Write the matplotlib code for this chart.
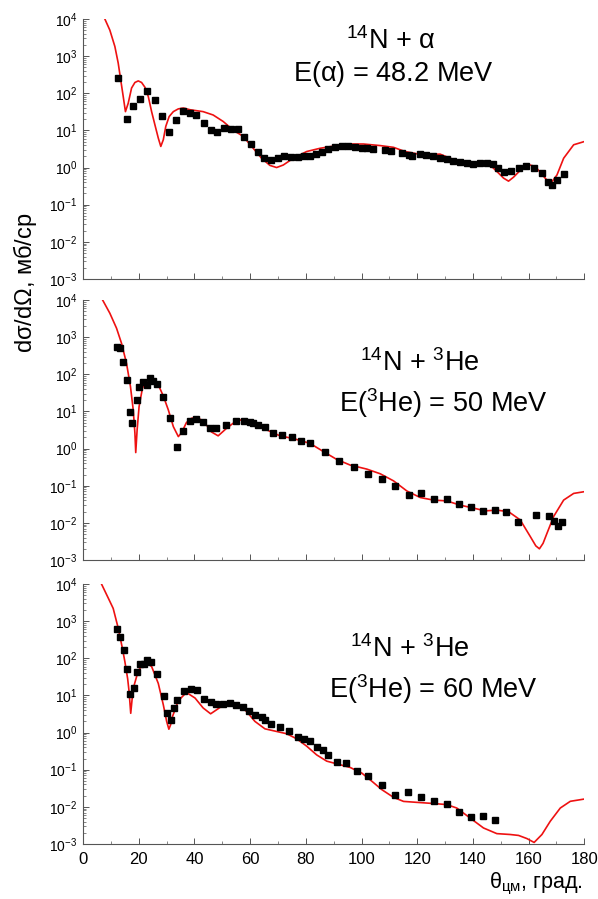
import matplotlib
matplotlib.use("Agg")
import matplotlib.pyplot as plt
from matplotlib.ticker import LogLocator, MultipleLocator, NullFormatter

plt.rcParams['font.family'] = ['Liberation Sans', 'DejaVu Sans']
plt.rcParams['mathtext.fontset'] = 'custom'
plt.rcParams['mathtext.rm'] = 'Liberation Sans'
plt.rcParams['mathtext.it'] = 'Liberation Sans:italic'
plt.rcParams['mathtext.default'] = 'regular'

# ---- Panel 1: 14N + alpha, 48.2 MeV ----
exp1_theta = [12.6, 15.6, 18.0, 20.6, 23.1, 25.8, 28.2, 30.7, 33.3, 35.7, 38.4, 40.7, 43.3, 45.8,
              48.1, 50.7, 53.1, 55.5, 57.9, 60.3, 62.7, 65.1, 67.5, 69.9, 72.3, 74.7, 77.1, 79.5,
              81.5, 83.7, 85.7, 88.1, 90.5, 92.9, 95.3, 97.7, 100.1, 102.1, 104.3, 108.5, 110.5,
              114.5, 116.9, 118.3, 121.0, 123.1, 125.6, 128.2, 130.6, 133.0, 135.4, 137.8, 140.2,
              142.6, 145.0, 147.4, 149.2, 151.2, 153.6, 156.4, 159.2, 161.8, 164.8, 167.0, 168.4,
              170.2, 172.6]
exp1_sigma = [254, 20, 46, 72, 117, 66, 25, 8.8, 19, 33, 29, 26, 15.7, 10.4,
              9.1, 11.5, 11.2, 10.8, 6.8, 4.4, 2.6, 1.76, 1.62, 1.86, 2.0, 1.95, 1.9, 2.0,
              2.1, 2.3, 2.7, 3.2, 3.5, 3.7, 3.7, 3.6, 3.4, 3.3, 3.2, 3.0, 2.8,
              2.4, 2.2, 2.0, 2.3, 2.2, 2.0, 1.86, 1.68, 1.51, 1.40, 1.32, 1.26,
              1.32, 1.32, 1.23, 0.97, 0.76, 0.80, 0.97, 1.12, 1.0, 0.71, 0.42, 0.33,
              0.45, 0.67]
th1_theta = [7.8, 9.6, 11.4, 12.6, 13.5, 14.4, 15.2, 16.2, 17.4, 18.6, 19.8, 21.0, 22.2, 23.4,
             24.6, 25.8, 27.0, 27.9, 28.8, 29.7, 30.9, 32.4, 34.2, 36.0, 38.4, 43.1, 46.7, 50.3,
             53.9, 57.5, 61.1, 64.1, 67.1, 69.5, 71.9, 75.5, 80.3, 85.1, 91.1, 95.9, 100.7, 106.7,
             111.5, 115.6, 119.8, 123.4, 128.2, 131.8, 135.4, 139.0, 142.6, 146.2, 149.2, 151.0,
             152.8, 154.6, 156.6, 159.4, 162.4, 165.4, 167.8, 170.2, 172.6, 176.2, 180.0]
th1_sigma = [1.0e4, 5.0e3, 1.82e3, 650, 230, 82, 32, 54, 138, 195, 215, 195, 145, 82,
             32, 14, 6.2, 3.7, 5.6, 12.9, 23.6, 32, 38, 40, 36, 32, 26, 17.4,
             10.2, 6.9, 3.3, 1.78, 1.14, 1.0, 1.17, 1.78, 2.7, 3.3, 3.9, 4.3, 4.3, 3.9,
             3.5, 2.7, 2.35, 2.2, 2.3, 1.78, 1.45, 1.26, 1.26, 1.17, 0.71, 0.52,
             0.43, 0.55, 0.78, 1.23, 1.07, 0.58, 0.36, 0.63, 1.78, 4.1, 5.0]

# ---- Panel 2: 14N + 3He, 50 MeV ----
exp2_theta = [12.0, 13.2, 14.4, 15.6, 16.8, 17.7, 19.2, 20.1, 21.6, 22.8, 24.0, 25.2, 26.4, 28.8,
              31.2, 33.6, 36.0, 38.4, 40.7, 43.1, 45.5, 47.7, 51.2, 54.8, 57.9, 59.9, 61.1, 62.9,
              65.3, 68.3, 71.6, 74.9, 78.2, 81.5, 86.9, 92.0, 97.3, 102.2, 107.3, 112.0, 116.9,
              121.3, 126.1, 130.7, 135.1, 139.5, 143.6, 147.9, 152.0, 156.2, 162.6, 167.2, 169.0,
              170.4, 171.9]
exp2_sigma = [553, 500, 219, 71, 9.8, 5.0, 20, 45, 61, 50, 78, 67, 54, 25,
              6.5, 1.07, 3.0, 5.6, 6.3, 5.2, 3.5, 3.5, 4.3, 5.6, 5.6, 5.1, 4.8, 4.4,
              3.7, 2.7, 2.3, 2.0, 1.62, 1.38, 0.79, 0.47, 0.32, 0.21, 0.15, 0.098, 0.056,
              0.062, 0.044, 0.043, 0.032, 0.026, 0.021, 0.022, 0.020, 0.0103, 0.016, 0.015, 0.0114,
              0.0082, 0.0105]
th2_theta = [7.0, 9.6, 12.0, 13.8, 15.6, 17.0, 18.0, 18.6, 18.9, 19.4, 20.1, 21.3, 22.8, 24.0,
             25.4, 27.0, 28.8, 30.6, 32.4, 34.2, 35.4, 37.1, 38.9, 40.7, 42.5, 44.3, 46.1, 48.5,
             51.5, 54.5, 57.5, 61.1, 65.9, 70.7, 75.5, 81.5, 86.3, 91.1, 95.9, 101.9, 106.7,
             111.5, 116.3, 121.1, 125.8, 130.6, 135.4, 140.2, 144.4, 148.6, 152.8, 157.0, 160.6,
             162.6, 163.9, 165.2, 166.6, 169.0, 172.6, 176.2, 180.0]
th2_sigma = [1.0e4, 4.4e3, 1.74e3, 680, 195, 47, 11, 2.6, 0.78, 3.2, 13.5, 42, 70, 78,
             71, 52, 26, 11, 3.9, 2.1, 2.7, 5.0, 6.5, 6.9, 5.9, 4.3, 2.8, 2.2,
             3.5, 5.2, 6.2, 5.0, 3.2, 2.2, 1.86, 1.38, 0.83, 0.51, 0.36, 0.28, 0.21,
             0.135, 0.072, 0.048, 0.041, 0.039, 0.030, 0.025, 0.021, 0.022, 0.020, 0.012, 0.0043,
             0.0024, 0.0020, 0.0028, 0.0052, 0.0148, 0.041, 0.062, 0.069]

# ---- Panel 3: 14N + 3He, 60 MeV ----
exp3_theta = [12.2, 13.4, 14.6, 15.8, 17.0, 18.2, 19.4, 20.6, 21.9, 23.1, 24.3, 26.7, 29.1, 30.3,
              31.4, 32.6, 33.8, 36.2, 38.6, 41.0, 43.4, 45.8, 47.9, 50.1, 52.7, 54.9, 57.3, 59.7,
              61.8, 64.1, 65.3, 67.5, 70.7, 74.1, 77.3, 79.3, 81.5, 83.9, 86.1, 88.1, 91.1, 94.3,
              98.3, 102.5, 107.3, 112.1, 116.8, 121.4, 126.2, 130.6, 135.1, 139.4, 143.6, 147.8]
exp3_sigma = [600, 370, 166, 50, 10.8, 16, 44, 69, 71, 89, 78, 38, 9.6, 3.3,
              2.2, 4.7, 7.3, 13.5, 14.8, 14.1, 8.1, 6.5, 5.9, 5.9, 6.1, 5.6, 4.8, 3.9,
              3.0, 2.6, 2.2, 1.69, 1.41, 1.10, 0.78, 0.67, 0.60, 0.41, 0.33, 0.25, 0.164, 0.151,
              0.094, 0.066, 0.038, 0.021, 0.025, 0.018, 0.014, 0.012, 0.0073, 0.0054, 0.0058, 0.0043]
th3_theta = [6.6, 9.6, 10.8, 12.6, 14.1, 15.0, 15.6, 16.0, 16.5, 17.1, 17.6, 18.2, 19.8, 22.2,
             24.6, 27.0, 28.8, 30.0, 30.8, 31.4, 32.1, 34.2, 37.1, 40.2, 43.1, 45.8, 49.1, 52.1,
             55.7, 58.7, 61.7, 65.3, 69.5, 73.1, 76.7, 80.3, 83.9, 87.5, 91.7, 95.9, 100.1, 103.7,
             107.3, 111.5, 115.1, 119.9, 125.8, 130.6, 134.2, 139.0, 143.8, 148.6, 153.4, 156.4,
             159.4, 162.0, 164.8, 167.8, 171.4, 175.0, 180.0]
th3_sigma = [1.0e4, 3.4e3, 2.2e3, 650, 186, 81, 43, 28, 12.9, 3.3, 8.0, 17.4, 46, 81,
             60, 21, 5.6, 2.0, 1.23, 1.6, 2.7, 7.2, 12, 8.5, 4.6, 3.2, 4.7, 5.8,
             5.6, 3.7, 2.0, 1.26, 1.07, 0.93, 0.68, 0.43, 0.25, 0.17, 0.14, 0.115, 0.081, 0.049,
             0.029, 0.018, 0.014, 0.0132, 0.0123, 0.0115, 0.0093, 0.0050, 0.0027, 0.0019, 0.0018, 0.0017,
             0.0014, 0.0011, 0.0018, 0.0041, 0.0093, 0.0141, 0.0162]

panels = [
    (exp1_theta, exp1_sigma, th1_theta, th1_sigma,
     r"$^{14}$N + $\alpha$", r"E($\alpha$) = 48.2 MeV", (0.613, 0.915), (0.619, 0.79)),
    (exp2_theta, exp2_sigma, th2_theta, th2_sigma,
     r"$^{14}$N + $^{3}$He", r"E($^{3}$He) = 50 MeV", (0.672, 0.758), (0.718, 0.605)),
    (exp3_theta, exp3_sigma, th3_theta, th3_sigma,
     r"$^{14}$N + $^{3}$He", r"E($^{3}$He) = 60 MeV", (0.652, 0.75), (0.698, 0.597)),
]

fig = plt.figure(figsize=(5.98, 8.99), dpi=100)
bottoms = [0.6897, 0.3771, 0.0612]
for i, (ex, ey, tx, ty, t1, t2, p1, p2) in enumerate(panels):
    ax = fig.add_axes([0.139, bottoms[i], 0.838, 0.2892])
    ax.plot(tx, ty, color='#ee1111', lw=1.2, zorder=2)
    ax.plot(ex, ey, 's', color='black', ms=4.7, zorder=3)
    ax.set_yscale('log')
    ax.set_xlim(0, 180)
    ax.set_ylim(1e-3, 1e4)
    ax.spines['top'].set_visible(False)
    ax.spines['right'].set_visible(False)
    for s in ('left', 'bottom'):
        ax.spines[s].set_color('#555555')
        ax.spines[s].set_linewidth(0.8)
    ax.xaxis.set_major_locator(MultipleLocator(20))
    ax.xaxis.set_minor_locator(MultipleLocator(10))
    ax.yaxis.set_major_locator(LogLocator(base=10, numticks=20))
    ax.yaxis.set_minor_locator(LogLocator(base=10, subs=range(2, 10), numticks=20))
    ax.yaxis.set_minor_formatter(NullFormatter())
    ax.tick_params(axis='both', which='both', direction='in', colors='#555555',
                   labelcolor='black')
    ax.tick_params(axis='both', which='major', length=4, width=0.7)
    ax.tick_params(axis='both', which='minor', length=2.5, width=0.5)
    ax.tick_params(axis='y', labelsize=10, pad=4)
    ax.tick_params(axis='x', labelsize=12, pad=6)
    if i < 2:
        ax.tick_params(axis='x', labelbottom=False)
    ax.text(p1[0], p1[1], t1, transform=ax.transAxes, ha='center', va='center',
            fontsize=19.5)
    ax.text(p2[0], p2[1], t2, transform=ax.transAxes, ha='center', va='center',
            fontsize=19.5)
    ax.patch.set_alpha(0)

fig.text(0.042, 0.685, r"d$\sigma$/d$\Omega$, мб/ср", rotation=90, ha='center', va='center',
         fontsize=17)
fig.text(0.975, 0.0122, r"$\theta_{цм}$, град.", ha='right', va='baseline', fontsize=15.5)

fig.savefig("out.png", dpi=100)
